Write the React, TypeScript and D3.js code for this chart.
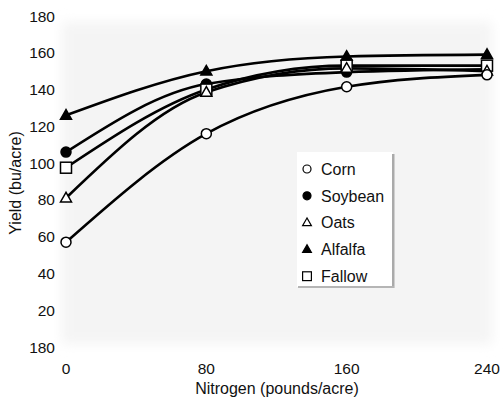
import React from "react";
import * as d3 from "d3";

const nitrogen = [0, 80, 160, 240];
const corn = [57, 116, 141.5, 148];
const soybean = [106, 143, 149.5, 151];
const oats = [81, 138.5, 151.5, 150];
const alfalfa = [126, 150, 158, 159];
const fallow = [97.5, 140, 153, 153];
const seriesNames = ["Corn", "Soybean", "Oats", "Alfalfa", "Fallow"];
const seriesMarkers = ["circleOpen", "circleFilled", "triangleOpen", "triangleFilled", "squareOpen"];
const yTickValues = [0, 20, 40, 60, 80, 100, 120, 140, 160, 180];
const yTickLabels = ["180", "20", "40", "60", "80", "100", "120", "140", "160", "180"];
const xTickValues = [0, 80, 160, 240];
const xTickLabels = ["0", "80", "160", "240"];

const W = 503;
const H = 399;
const FONT = "'Liberation Sans', Arial, Helvetica, sans-serif";

function Marker({ type, x, y }: { type: string; x: number; y: number }) {
  const sw = 1.5;
  if (type === "circleOpen" || type === "circleFilled") {
    return <circle cx={x} cy={y} r={5} fill={type === "circleFilled" ? "#000" : "#fff"} stroke="#000" strokeWidth={sw} />;
  }
  if (type === "triangleOpen" || type === "triangleFilled") {
    const s = 11;
    const h = s * 0.87;
    const pts = `${x},${y - h * 0.6} ${x - s / 2},${y + h * 0.4} ${x + s / 2},${y + h * 0.4}`;
    return <polygon points={pts} fill={type === "triangleFilled" ? "#000" : "#fff"} stroke="#000" strokeWidth={sw} strokeLinejoin="miter" />;
  }
  const s = 11;
  return <rect x={x - s / 2} y={y - s / 2} width={s} height={s} fill="#fff" stroke="#000" strokeWidth={sw} />;
}

export default function App() {
  const x = d3.scaleLinear().domain([0, 240]).range([66, 487]);
  const y = d3.scaleLinear().domain([0, 180]).range([347, 16]);
  const allSeries = [corn, soybean, oats, alfalfa, fallow];
  const line = d3
    .line<number>()
    .x((_, i) => x(nitrogen[i]))
    .y((d) => y(d))
    .curve(d3.curveMonotoneX);

  const markerOrder = [3, 1, 4, 2, 0];

  return (
    <svg
      width={W}
      height={H}
      style={{ position: "absolute", left: 0, top: 0, background: "#fff" }}
      fontFamily={FONT}
    >
      <defs>
        <filter id="soft" x="-10%" y="-10%" width="120%" height="120%">
          <feGaussianBlur stdDeviation="6" />
        </filter>
      </defs>
      <rect x={62} y={22} width={430} height={322} fill="#f4f4f4" filter="url(#soft)" />

      {yTickValues.map((v, i) => (
        <text key={"y" + v} x={55} y={y(v)} dy="0.36em" textAnchor="end" fontSize={15.5} fill="#111">
          {yTickLabels[i]}
        </text>
      ))}
      {xTickValues.map((v, i) => (
        <text key={"x" + v} x={x(v)} y={368} dy="0.36em" textAnchor="middle" fontSize={15.5} fill="#111">
          {xTickLabels[i]}
        </text>
      ))}
      <text x={277} y={388} dy="0.36em" textAnchor="middle" fontSize={16} fill="#111">
        Nitrogen (pounds/acre)
      </text>
      <text
        transform={`translate(15,${183}) rotate(-90)`}
        dy="0.36em"
        textAnchor="middle"
        fontSize={16}
        fill="#111"
      >
        Yield (bu/acre)
      </text>

      {allSeries.map((s, i) => (
        <path key={"l" + i} d={line(s) || ""} fill="none" stroke="#000" strokeWidth={2.6} />
      ))}
      {markerOrder.map((si) =>
        allSeries[si].map((v, j) => (
          <Marker key={`m${si}-${j}`} type={seriesMarkers[si]} x={x(nitrogen[j])} y={y(v)} />
        ))
      )}

      <g>
        <rect x={297} y={152} width={96} height={135} fill="#fff" />
        <rect x={392} y={154} width={2.5} height={134} fill="#aaa" />
        <rect x={298} y={286} width={96} height={2} fill="#b5b5b5" />
        {seriesNames.map((name, i) => {
          const ly = 169 + i * 26.8;
          return (
            <g key={name}>
              <g transform={`translate(307,${ly}) scale(0.8) translate(-307,${-ly})`}>
                <Marker type={seriesMarkers[i]} x={307} y={ly} />
              </g>
              <text x={321} y={ly} dy="0.36em" fontSize={16} fill="#111">
                {name}
              </text>
            </g>
          );
        })}
      </g>
    </svg>
  );
}
